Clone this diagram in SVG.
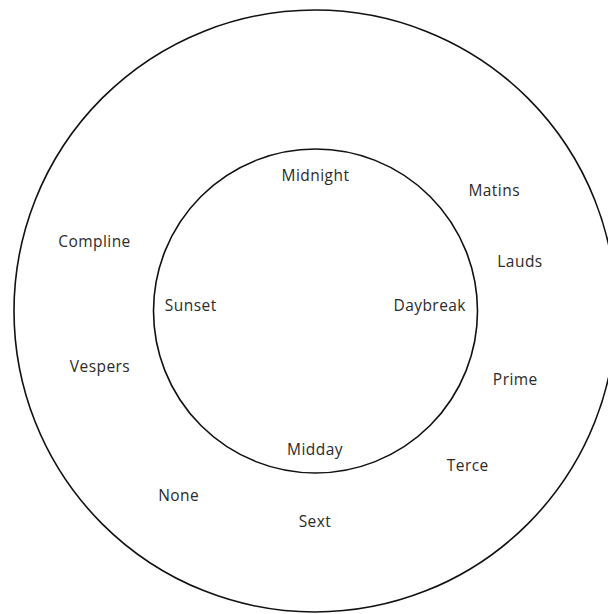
<svg xmlns="http://www.w3.org/2000/svg" width="608" height="614" viewBox="0 0 608 614">
<style>
.ring{fill:none;stroke:#111;stroke-width:1.6}
.lbl{font-family:"Open Sans","Noto Sans","Liberation Sans",sans-serif;font-size:15.5px;fill:#2b2b2b;text-anchor:middle;letter-spacing:0.45px}
</style>
<rect width="608" height="614" fill="#fff"/>
<g id="outer"><circle class="ring" cx="315" cy="311" r="301"/></g>
<g id="inner"><circle class="ring" cx="315.5" cy="311" r="162"/></g>
<g id="connectors"></g>
<g id="midnight"><text class="lbl" x="315.5" y="180.7">Midnight</text></g>
<g id="sunset"><text class="lbl" x="190.7" y="310.7">Sunset</text></g>
<g id="daybreak"><text class="lbl" x="429.7" y="310.5">Daybreak</text></g>
<g id="midday"><text class="lbl" x="315" y="455">Midday</text></g>
<g id="matins"><text class="lbl" x="494.2" y="196">Matins</text></g>
<g id="lauds"><text class="lbl" x="520" y="266.7">Lauds</text></g>
<g id="prime"><text class="lbl" x="515.3" y="385">Prime</text></g>
<g id="compline"><text class="lbl" x="94.5" y="246.7">Compline</text></g>
<g id="vespers"><text class="lbl" x="100" y="371.7">Vespers</text></g>
<g id="terce"><text class="lbl" x="467.8" y="470.6">Terce</text></g>
<g id="none"><text class="lbl" x="178.7" y="501">None</text></g>
<g id="sext"><text class="lbl" x="315" y="526.6">Sext</text></g>
</svg>
